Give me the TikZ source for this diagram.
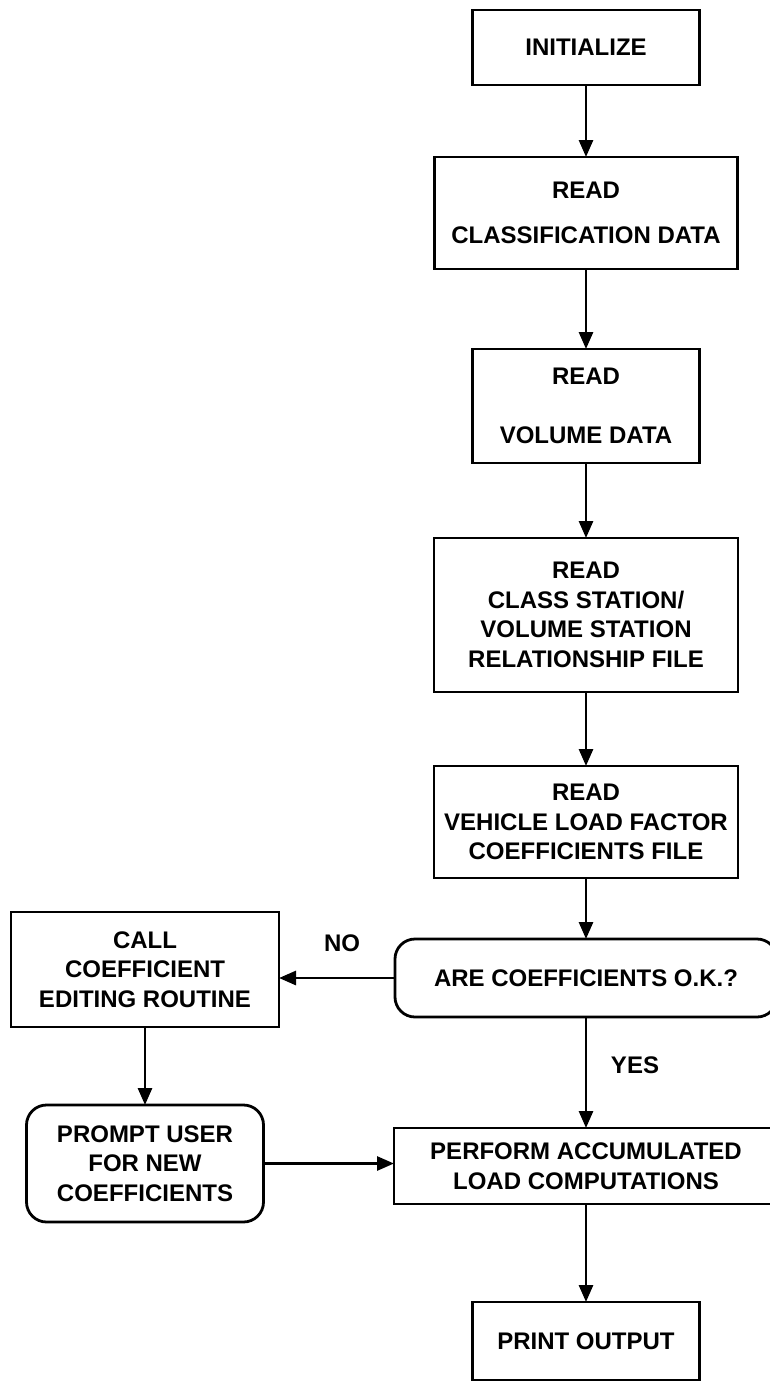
\documentclass[tikz,border=0pt]{standalone}
\usepackage{fontspec}
\setmainfont{Liberation Sans}
\usetikzlibrary{arrows.meta,positioning}

\begin{document}
\begin{tikzpicture}[
  x=1pt,y=1pt,
  box/.style={draw,line width=2.8pt,outer sep=0pt,align=center,inner sep=0pt,font=\bfseries\fontsize{24}{29.5}\selectfont},
  rbox/.style={box,rounded corners=20pt},
  flow/.style={line width=2.8pt,-{Triangle[length=17pt,width=14pt]}},
  tag/.style={font=\bfseries\fontsize{24}{28}\selectfont}
]
\useasboundingbox (0,0) rectangle (770,-1382);
\node[box,minimum width=227pt,minimum height=75pt] (init) at (586,-47.5) {INITIALIZE};
\node[box,minimum width=303pt,minimum height=112pt,below=72pt of init] (rdclass) {READ\\[16pt]CLASSIFICATION DATA};
\node[box,minimum width=227pt,minimum height=114pt,below=80pt of rdclass] (rdvol) {READ\\[30pt]VOLUME DATA};
\node[box,minimum width=304pt,minimum height=154pt,below=75pt of rdvol] (rdrel) {READ\\CLASS STATION/\\VOLUME STATION\\RELATIONSHIP FILE};
\node[box,minimum width=304pt,minimum height=112pt,below=74pt of rdrel] (rdvlf) {READ\\VEHICLE LOAD FACTOR\\COEFFICIENTS FILE};
\node[rbox,minimum width=382pt,minimum height=78pt,below=61pt of rdvlf] (check) {ARE COEFFICIENTS O.K.?};
\node[box,minimum width=384pt,minimum height=76pt,below=111pt of check] (perform) {PERFORM ACCUMULATED\\LOAD COMPUTATIONS};
\node[box,minimum width=227pt,minimum height=78pt,below=98pt of perform] (print) {PRINT OUTPUT};
\node[box,minimum width=268pt,minimum height=115pt] (call) at (145,-969.5) {CALL\\COEFFICIENT\\EDITING ROUTINE};
\node[rbox,minimum width=237pt,minimum height=117pt,below=78pt of call] (prompt) {PROMPT USER\\FOR NEW\\COEFFICIENTS};
\node[tag] (no) at (342,-943) {NO};
\node[tag] (yes) at (635,-1065) {YES};
\draw[flow] (init) -- (rdclass);
\draw[flow] (rdclass) -- (rdvol);
\draw[flow] (rdvol) -- (rdrel);
\draw[flow] (rdrel) -- (rdvlf);
\draw[flow] (rdvlf) -- (check);
\draw[flow] (check) -- (perform);
\draw[flow] (perform) -- (print);
\draw[flow] (check.west) -- (check.west -| call.east);
\draw[flow] (call) -- (prompt);
\draw[flow] (prompt.east) -- (prompt.east -| perform.west);
\end{tikzpicture}
\end{document}
